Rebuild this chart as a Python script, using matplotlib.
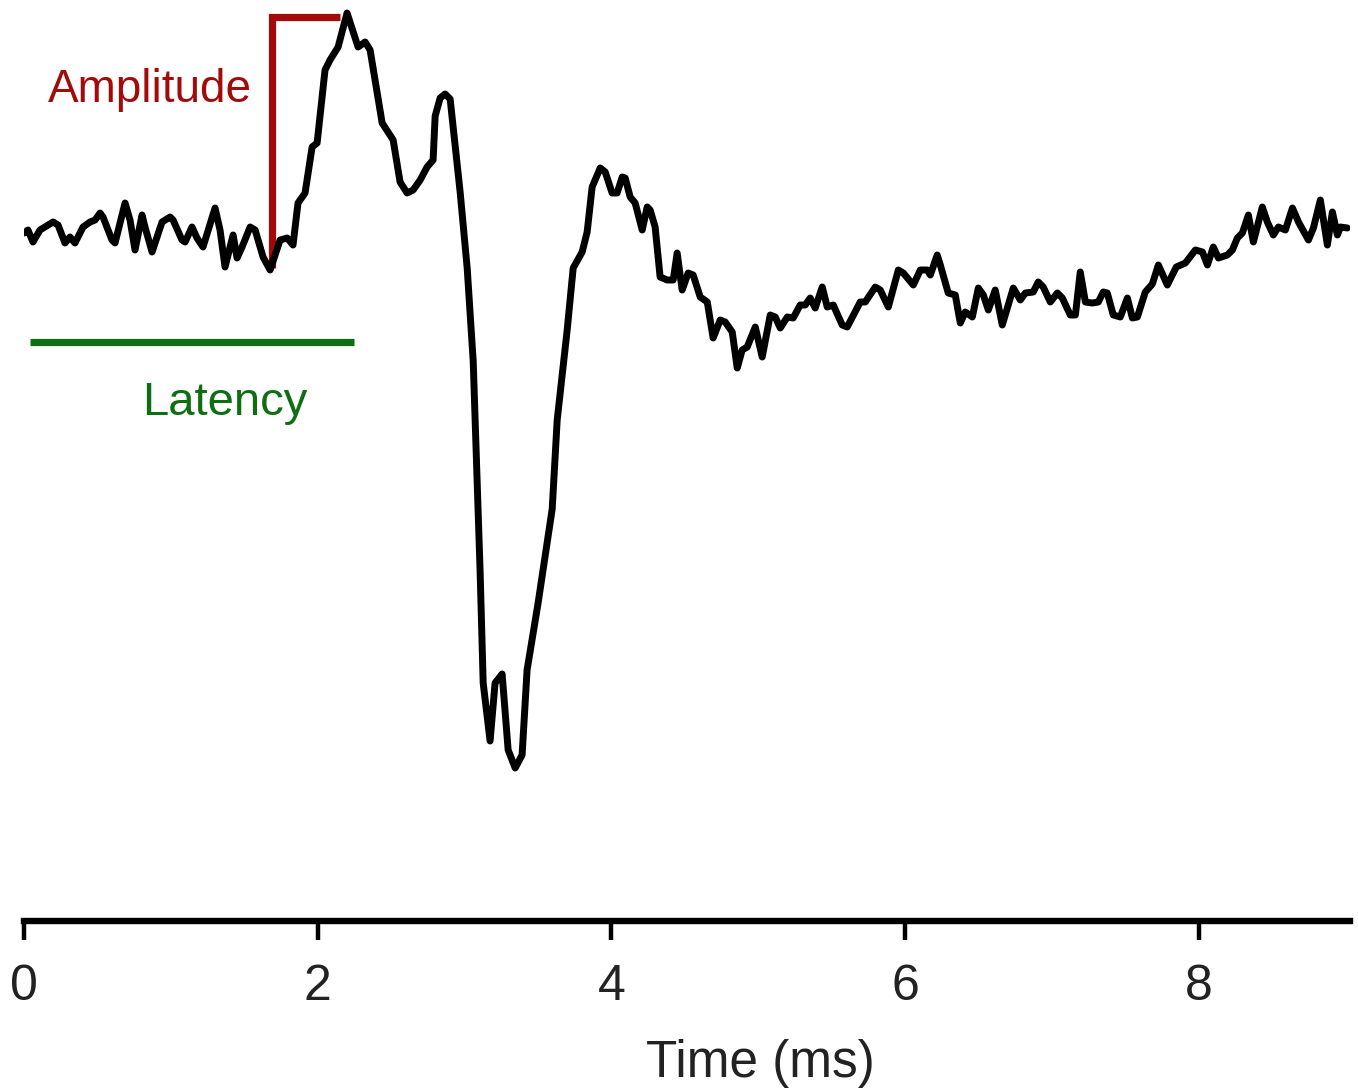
import matplotlib
matplotlib.use("Agg")
import matplotlib.pyplot as plt

# ---- data (time in ms, amplitude in arbitrary units) ----
time_ms = [0.00, 0.027, 0.061, 0.109, 0.198, 0.232, 0.279, 0.313, 0.347, 0.402,
           0.450, 0.484, 0.518, 0.538, 0.599, 0.620, 0.688, 0.722, 0.756, 0.804,
           0.824, 0.872, 0.940, 0.995, 1.015, 1.076, 1.097, 1.144, 1.178, 1.219,
           1.301, 1.335, 1.369, 1.424, 1.451, 1.485, 1.540, 1.574, 1.628, 1.676,
           1.744, 1.792, 1.832, 1.866, 1.914, 1.962, 1.996, 2.050, 2.084, 2.139,
           2.200, 2.275, 2.323, 2.357, 2.439, 2.514, 2.561, 2.609, 2.650, 2.698,
           2.745, 2.786, 2.800, 2.834, 2.868, 2.902, 2.970, 3.018, 3.059, 3.086,
           3.106, 3.127, 3.174, 3.208, 3.256, 3.297, 3.345, 3.392, 3.426, 3.501,
           3.597, 3.631, 3.699, 3.740, 3.801, 3.835, 3.869, 3.924, 3.958, 4.005,
           4.039, 4.074, 4.094, 4.128, 4.162, 4.210, 4.244, 4.264, 4.298, 4.332,
           4.380, 4.421, 4.448, 4.482, 4.523, 4.557, 4.605, 4.653, 4.693, 4.741,
           4.775, 4.823, 4.857, 4.891, 4.925, 4.980, 5.027, 5.082, 5.116, 5.150,
           5.198, 5.238, 5.286, 5.320, 5.354, 5.388, 5.436, 5.470, 5.511, 5.572,
           5.606, 5.695, 5.729, 5.797, 5.831, 5.886, 5.954, 5.988, 6.056, 6.104,
           6.151, 6.172, 6.219, 6.240, 6.294, 6.342, 6.376, 6.410, 6.458, 6.499,
           6.533, 6.567, 6.614, 6.662, 6.737, 6.785, 6.819, 6.873, 6.907, 6.941,
           6.989, 7.037, 7.071, 7.125, 7.160, 7.193, 7.228, 7.275, 7.316, 7.350,
           7.377, 7.418, 7.466, 7.514, 7.548, 7.582, 7.636, 7.684, 7.725, 7.786,
           7.847, 7.909, 7.977, 8.025, 8.059, 8.099, 8.134, 8.195, 8.229, 8.263,
           8.297, 8.338, 8.372, 8.433, 8.467, 8.508, 8.542, 8.590, 8.638, 8.679,
           8.747, 8.781, 8.828, 8.876, 8.910, 8.944, 8.965, 9.012]

amplitude = [0.07, 0.10, -0.02, 0.10, 0.18, 0.15, -0.03, 0.03, -0.03, 0.13,
             0.18, 0.20, 0.27, 0.23, 0.00, -0.03, 0.37, 0.20, -0.10, 0.25,
             0.13, -0.12, 0.18, 0.23, 0.20, 0.00, -0.02, 0.13, 0.02, -0.07,
             0.32, 0.10, -0.27, 0.05, -0.18, -0.07, 0.13, 0.10, -0.17, -0.30,
             0.00, 0.02, -0.05, 0.37, 0.47, 0.93, 0.97, 1.70, 1.80, 1.93,
             2.27, 1.93, 1.98, 1.90, 1.17, 1.00, 0.58, 0.47, 0.50, 0.60,
             0.73, 0.80, 1.24, 1.42, 1.46, 1.41, 0.48, -0.28, -1.21, -2.42,
             -3.31, -4.43, -5.01, -4.43, -4.34, -5.10, -5.28, -5.15, -4.30, -3.63,
             -2.69, -1.80, -0.90, -0.28, -0.12, 0.08, 0.53, 0.72, 0.68, 0.47,
             0.47, 0.63, 0.62, 0.43, 0.37, 0.10, 0.33, 0.30, 0.13, -0.37,
             -0.40, -0.40, -0.13, -0.50, -0.33, -0.35, -0.57, -0.62, -0.98, -0.80,
             -0.82, -0.92, -1.28, -1.10, -1.07, -0.87, -1.17, -0.75, -0.77, -0.88,
             -0.77, -0.78, -0.65, -0.65, -0.58, -0.68, -0.47, -0.67, -0.65, -0.85,
             -0.87, -0.62, -0.62, -0.47, -0.50, -0.67, -0.30, -0.33, -0.45, -0.30,
             -0.30, -0.35, -0.15, -0.25, -0.53, -0.55, -0.83, -0.72, -0.77, -0.48,
             -0.55, -0.70, -0.50, -0.85, -0.48, -0.60, -0.53, -0.52, -0.42, -0.47,
             -0.62, -0.53, -0.58, -0.75, -0.75, -0.32, -0.62, -0.63, -0.62, -0.52,
             -0.53, -0.75, -0.77, -0.58, -0.78, -0.77, -0.52, -0.44, -0.25, -0.45,
             -0.27, -0.23, -0.10, -0.12, -0.25, -0.07, -0.18, -0.15, -0.10, 0.02,
             0.07, 0.25, -0.02, 0.33, 0.18, 0.05, 0.13, 0.10, 0.32, 0.18,
             0.00, 0.12, 0.40, -0.05, 0.28, 0.05, 0.13, 0.12]

x_ticks = [0, 2, 4, 6, 8]
x_label = "Time (ms)"

# annotation values
onset_time = 1.69
onset_amp = -0.28
peak_time = 2.15
peak_amp = 2.23
latency_start = 0.04
latency_end = 2.25
latency_level = -1.02

RED = "#a30b0b"
GREEN = "#0f6e12"

plt.rcParams['font.family'] = ['Liberation Sans', 'DejaVu Sans']

fig = plt.figure(figsize=(13.58, 10.91), dpi=100)
ax = fig.add_axes([24 / 1358, 170 / 1091, 1326 / 1358, 921 / 1091])

ax.plot(time_ms, amplitude, color="black", lw=5.0, solid_joinstyle="round",
        solid_capstyle="round", zorder=3)

# amplitude bracket
ax.plot([onset_time, onset_time, peak_time], [onset_amp, peak_amp, peak_amp],
        color=RED, lw=5.2, solid_joinstyle="miter", solid_capstyle="butt", zorder=2)
ax.text(0.86, 1.50, "Amplitude", color=RED, fontsize=33, ha="center", va="center")

# latency bar
ax.plot([latency_start, latency_end], [latency_level, latency_level],
        color=GREEN, lw=5.2, solid_capstyle="butt", zorder=2)
ax.text(1.37, -1.63, "Latency", color=GREEN, fontsize=34, ha="center", va="center")

ax.set_xlim(0, 9.03)
ax.set_ylim(-6.81, 2.40)

for s in ["top", "right", "left"]:
    ax.spines[s].set_visible(False)
ax.spines["bottom"].set_linewidth(4.6)
ax.spines["bottom"].set_color("black")
ax.set_yticks([])
ax.set_xticks(x_ticks)
ax.set_xticklabels([str(t) for t in x_ticks])
ax.tick_params(axis="x", direction="out", length=14, width=3.2, pad=17,
               labelsize=36, labelcolor="#222222", color="black")
ax.set_xlabel(x_label, fontsize=37, color="#222222")
ax.xaxis.set_label_coords(0.555, -0.128)
ax.patch.set_visible(False)

fig.savefig("out.png", dpi=100, facecolor="white")
